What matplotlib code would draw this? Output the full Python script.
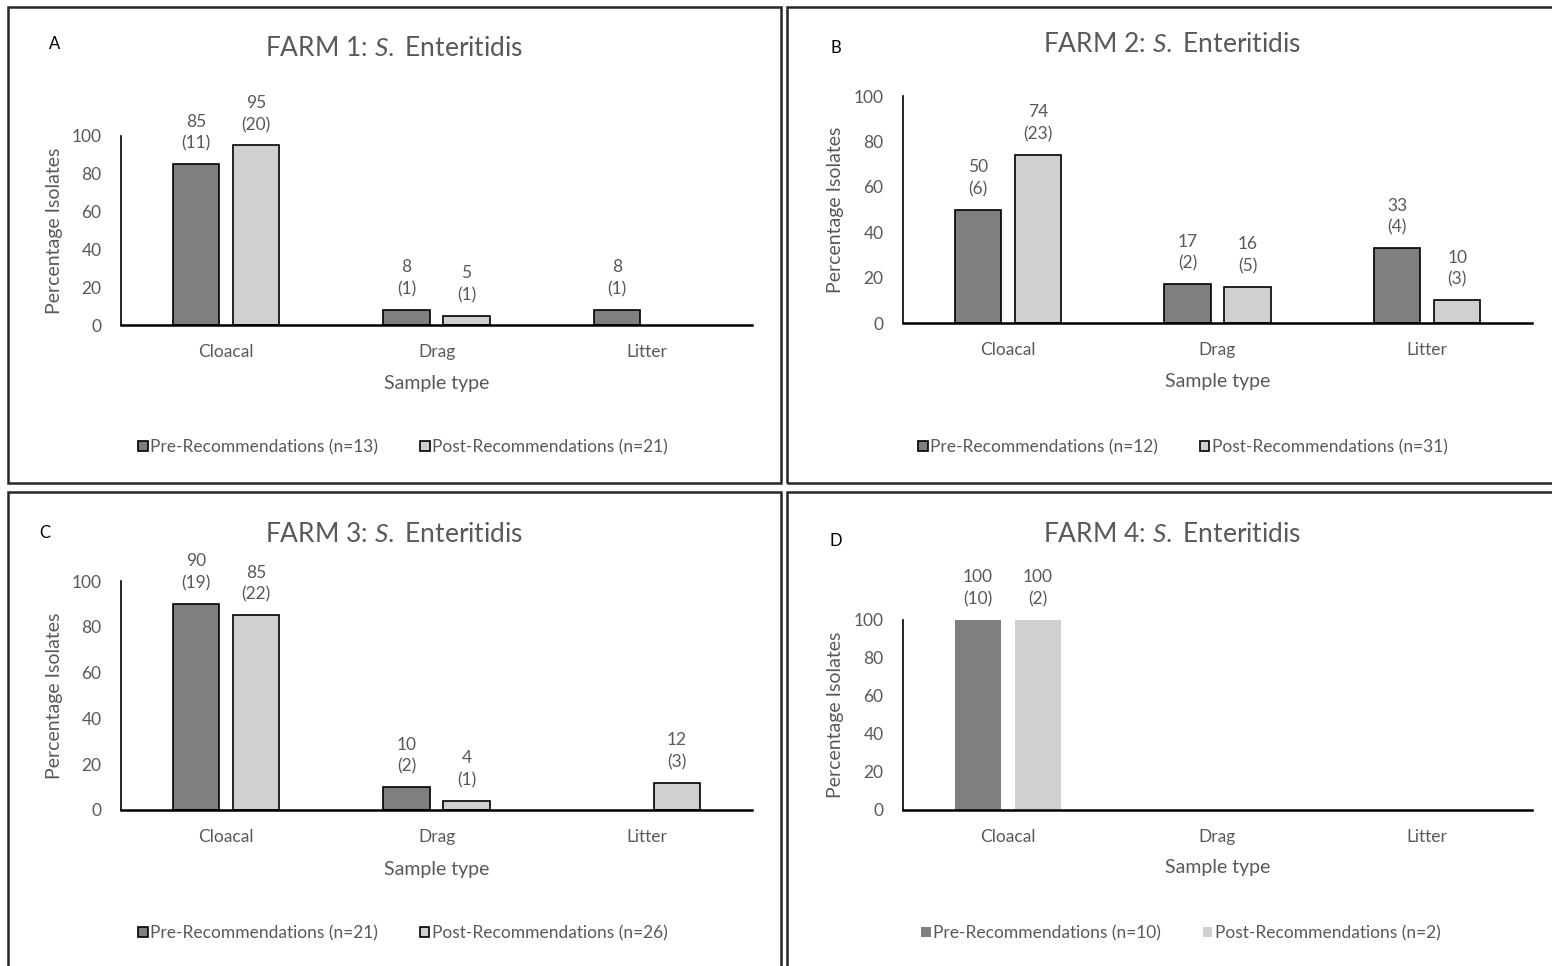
import matplotlib
matplotlib.use('Agg')
import matplotlib.pyplot as plt
from matplotlib.patches import Rectangle, Patch
import numpy as np

# ---- data ----
categories = ['Cloacal', 'Drag', 'Litter']
farm_names = ['FARM 1', 'FARM 2', 'FARM 3', 'FARM 4']
panel_letters = ['A', 'B', 'C', 'D']

pre_pct = [[85, 8, 8], [50, 17, 33], [90, 10, None], [100, None, None]]
pre_n = [[11, 1, 1], [6, 2, 4], [19, 2, None], [10, None, None]]
post_pct = [[95, 5, None], [74, 16, 10], [85, 4, 12], [100, None, None]]
post_n = [[20, 1, None], [23, 5, 3], [22, 1, 3], [2, None, None]]
pre_total = [13, 12, 21, 10]
post_total = [21, 31, 26, 2]
yticks = [0, 20, 40, 60, 80, 100]

W, H = 1552, 966
PRE_COLOR = '#7f7f7f'
POST_COLOR = '#d0d0d0'
TEXT = '#595959'

plt.rcParams['font.family'] = ['Lato', 'DejaVu Sans']
plt.rcParams['mathtext.fontset'] = 'custom'
plt.rcParams['mathtext.rm'] = 'Lato'
plt.rcParams['mathtext.it'] = 'Lato:italic'

# pixel layout of each panel: border, axes box (l, t, r, b), title, letter, xlabel y, legend centre
layout = [
    dict(border=(8, 7, 781, 483), axes=(121, 136, 752, 325), title=(394, 48), letter=(55, 44),
         ylab_x=55, xlab_y=384, legend=(403, 447), edge=True),
    dict(border=(787, 7, 1575, 483), axes=(903, 96, 1532, 323), title=(1172, 45), letter=(836, 48),
         ylab_x=835, xlab_y=382, legend=(1183, 447), edge=True),
    dict(border=(8, 492, 781, 990), axes=(121, 581, 752, 810), title=(394, 534), letter=(45, 533),
         ylab_x=55, xlab_y=870, legend=(403, 933), edge=True),
    dict(border=(787, 492, 1575, 990), axes=(903, 620, 1532, 810), title=(1172, 534), letter=(836, 541),
         ylab_x=835, xlab_y=868, legend=(1181, 933), edge=False),
]


def fx(x):
    return x / W


def fy(y):
    return 1 - y / H


fig = plt.figure(figsize=(W / 100, H / 100), dpi=100)

x = np.arange(len(categories))
width = 0.22
offset = 0.143

for i, lay in enumerate(layout):
    bl, bt, br, bb = lay['border']
    fig.patches.append(Rectangle((fx(bl), fy(bb)), fx(br - bl), (bb - bt) / H,
                                 transform=fig.transFigure, fill=False,
                                 edgecolor='#262626', linewidth=1.8, zorder=0))

    l, t, r, b = lay['axes']
    ax = fig.add_axes([fx(l), fy(b), fx(r - l), (b - t) / H])

    pre = np.array([np.nan if v is None else v for v in pre_pct[i]], dtype=float)
    post = np.array([np.nan if v is None else v for v in post_pct[i]], dtype=float)
    ec = 'black' if lay['edge'] else 'none'
    ax.bar(x - offset, pre, width, color=PRE_COLOR, edgecolor=ec, linewidth=1.2, zorder=2)
    ax.bar(x + offset, post, width, color=POST_COLOR, edgecolor=ec, linewidth=1.2, zorder=2)

    for vals, counts, shift in [(pre_pct[i], pre_n[i], -offset), (post_pct[i], post_n[i], offset)]:
        for j, (v, n) in enumerate(zip(vals, counts)):
            if v is None:
                continue
            ax.annotate('%d\n(%d)' % (v, n), xy=(x[j] + shift, v), xytext=(0, 9),
                        textcoords='offset points', ha='center', va='bottom',
                        fontsize=12.5, color=TEXT, linespacing=1.45, annotation_clip=False)

    ax.set_xlim(-0.5, 2.5)
    ax.set_ylim(0, 100)
    ax.set_yticks(yticks)
    ax.set_xticks(x)
    ax.set_xticklabels(categories)
    ax.tick_params(axis='both', length=0, labelsize=12.5, labelcolor=TEXT)
    ax.tick_params(axis='y', pad=14)
    ax.tick_params(axis='x', pad=14)
    for s in ['top', 'right']:
        ax.spines[s].set_visible(False)
    ax.spines['left'].set_linewidth(1.2)
    ax.spines['bottom'].set_linewidth(1.8)
    ax.set_facecolor('none')

    fig.text(fx(lay['ylab_x']), fy((t + b) / 2), 'Percentage Isolates', rotation=90,
             ha='center', va='center', fontsize=14, color=TEXT)
    fig.text(fx((l + r) / 2), fy(lay['xlab_y']), 'Sample type', ha='center', va='center',
             fontsize=14, color=TEXT)
    fig.text(fx(lay['title'][0]), fy(lay['title'][1]), farm_names[i] + r': $\it{S.}$ Enteritidis',
             ha='center', va='center', fontsize=19, color=TEXT)
    fig.text(fx(lay['letter'][0]), fy(lay['letter'][1]), panel_letters[i], ha='center',
             va='center', fontsize=12, color='black')

    handles = [Patch(facecolor=PRE_COLOR, edgecolor=ec, linewidth=1.2),
               Patch(facecolor=POST_COLOR, edgecolor=ec, linewidth=1.2)]
    labels = ['Pre-Recommendations (n=%d)' % pre_total[i],
              'Post-Recommendations (n=%d)' % post_total[i]]
    leg = ax.legend(handles, labels, loc='center', ncol=2, frameon=False,
                    bbox_to_anchor=(fx(lay['legend'][0]), fy(lay['legend'][1])),
                    bbox_transform=fig.transFigure, fontsize=12.5,
                    handlelength=0.55, handleheight=0.55, handletextpad=0.15,
                    columnspacing=2.4, borderpad=0)
    for txt in leg.get_texts():
        txt.set_color(TEXT)

fig.savefig('out.png', dpi=100, facecolor='white')
